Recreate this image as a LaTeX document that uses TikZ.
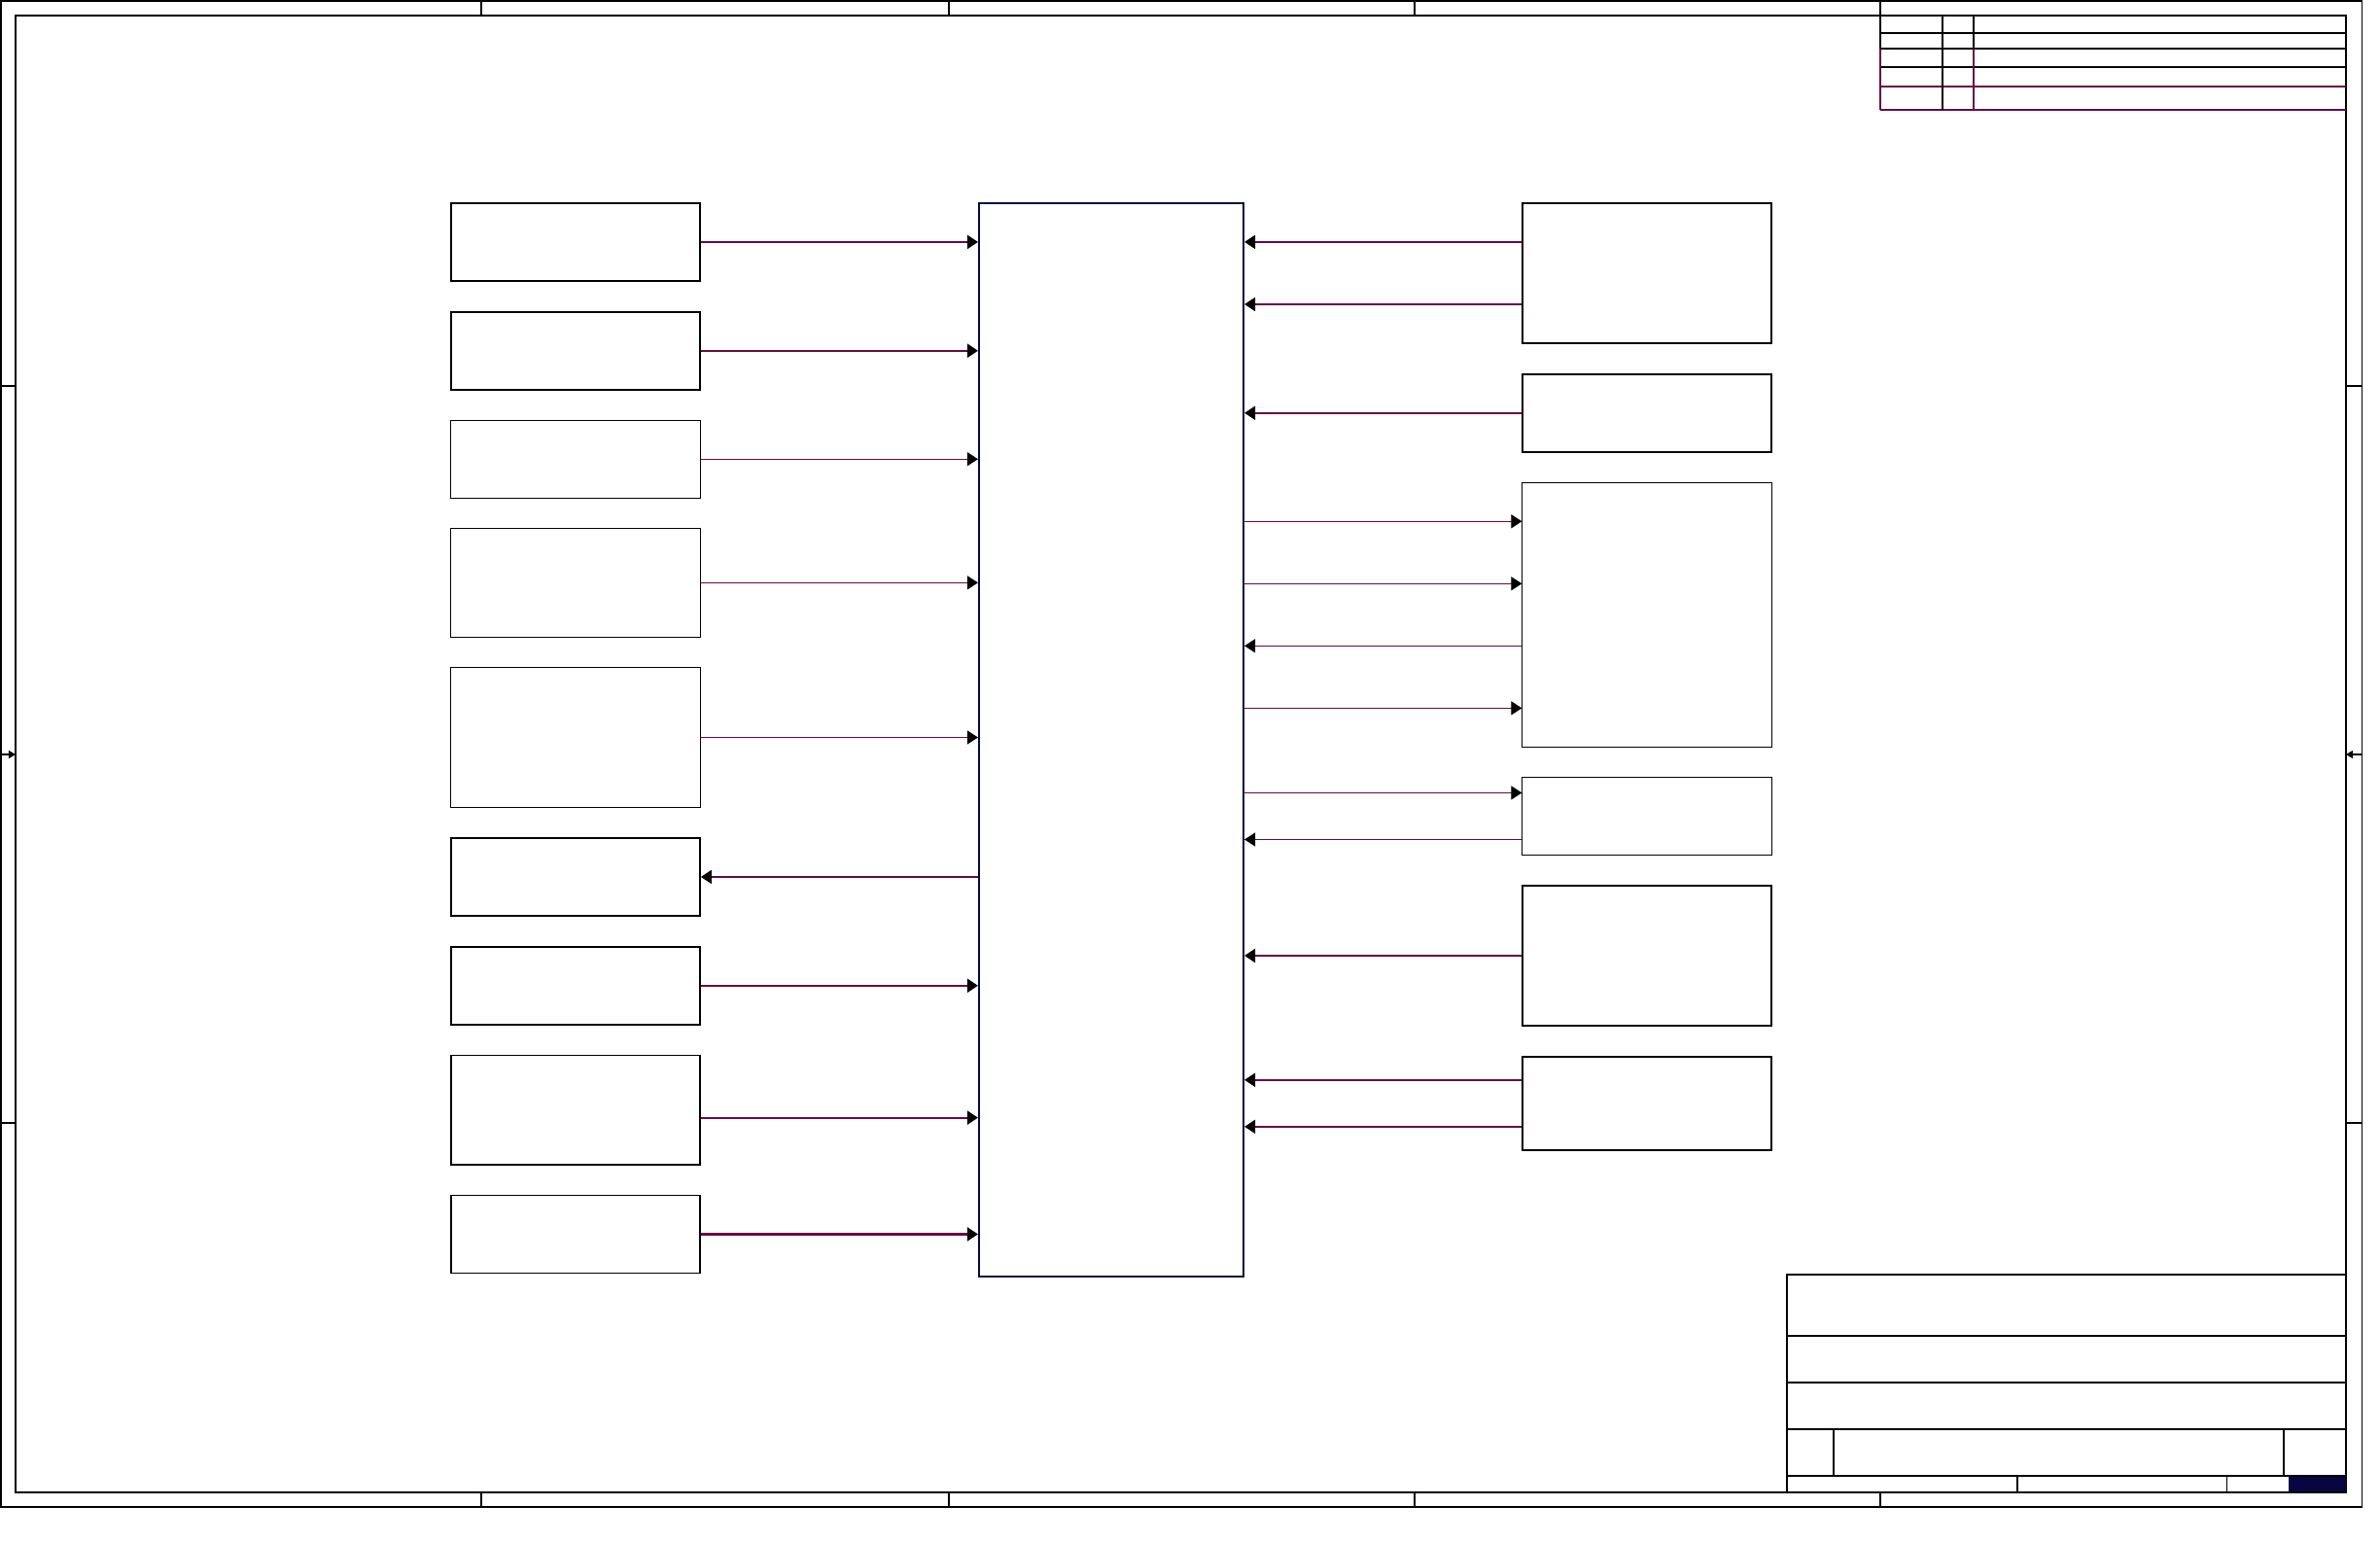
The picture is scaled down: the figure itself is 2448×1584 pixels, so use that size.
\documentclass[tikz,border=0pt]{standalone}
\usepackage{xcolor}
\usepackage{tikz}
\usetikzlibrary{arrows.meta, positioning}

\definecolor{buspurple}{RGB}{104,10,66}
\definecolor{corenavy}{RGB}{8,6,64}

\begin{document}
\begin{tikzpicture}[
    x=0.01cm, y=-0.01cm,
    node distance=0.3cm,
    block/.style={rectangle, minimum width=2.56cm, minimum height=0.8cm, inner sep=0pt, draw=black, line width=0.3pt},
    blockbold/.style={block, line width=0.5pt},
    core/.style={rectangle, minimum width=2.72cm, minimum height=11.03cm, inner sep=0pt, draw=corenavy, line width=0.55pt},
    bus/.style={draw=buspurple, line width=0.6pt, -{Triangle[length=0.11cm, width=0.14cm, color=black]}},
    wire/.style={bus, line width=0.3pt},
    frameline/.style={draw=black, line width=0.3pt},
    framebold/.style={draw=black, line width=0.5pt},
    revline/.style={draw=buspurple, line width=0.5pt}
]

    \useasboundingbox (0,0) rectangle (2448,1584);

    \draw [frameline] (1,1) rectangle (2429,1550);
    \draw [framebold] (16,16) rectangle (2413,1535);
    \draw [frameline] (495,1) -- (495,16);
    \draw [frameline] (976,1) -- (976,16);
    \draw [frameline] (1455,1) -- (1455,16);
    \draw [frameline] (1934,1) -- (1934,16);
    \draw [frameline] (495,1535) -- (495,1550);
    \draw [frameline] (976,1535) -- (976,1550);
    \draw [frameline] (1455,1535) -- (1455,1550);
    \draw [frameline] (1934,1535) -- (1934,1550);
    \draw [frameline] (1,397) -- (16,397);
    \draw [frameline] (1,1155) -- (16,1155);
    \draw [frameline] (2413,397) -- (2429,397);
    \draw [frameline] (2413,1155) -- (2429,1155);
    \draw [frameline, -{Triangle[length=0.07cm, width=0.08cm]}] (1,776) -- (16,776);
    \draw [frameline, -{Triangle[length=0.07cm, width=0.08cm]}] (2429,776) -- (2413,776);

    \draw [framebold] (1934,34) -- (2413,34);
    \draw [frameline] (1934,50) -- (2413,50);
    \draw [framebold] (1934,69) -- (2413,69);
    \draw [revline] (1934,89) -- (2413,89);
    \draw [revline] (1934,113) -- (2413,113);
    \draw [framebold] (1934,16) -- (1934,50);
    \draw [revline] (1934,50) -- (1934,113);
    \draw [framebold] (1998,16) -- (1998,113);
    \draw [framebold] (2030,16) -- (2030,50);
    \draw [revline] (2030,50) -- (2030,113);

    \draw [framebold] (1838,1470) -- (1838,1311) -- (2413,1311);
    \draw [frameline] (1838,1374) -- (2413,1374);
    \draw [frameline] (1838,1422) -- (2413,1422);
    \draw [framebold] (1838,1470) -- (2413,1470);
    \draw [frameline] (1838,1518) -- (2413,1518);
    \draw [frameline] (1838,1470) -- (1838,1534);
    \draw [framebold] (1886,1470) -- (1886,1518);
    \draw [framebold] (2349,1470) -- (2349,1518);
    \draw [framebold] (2075,1518) -- (2075,1534);
    \draw [frameline] (2290,1518) -- (2290,1534);
    \fill [corenavy] (2354,1519) rectangle (2413,1534);

    \node (soc) [core, anchor=north] at (1143,208) {};

    \node (lft1) [blockbold, anchor=north] at (592,208) {};
    \node (lft2) [blockbold, below=of lft1] {};
    \node (lft3) [block, below=of lft2] {};
    \node (lft4) [block, below=of lft3, minimum height=1.12cm] {};
    \node (lft5) [block, below=of lft4, minimum height=1.44cm] {};
    \node (lft6) [blockbold, below=of lft5] {};
    \node (lft7) [blockbold, below=of lft6] {};
    \node (lft8) [blockbold, below=of lft7, minimum height=1.12cm] {};
    \node (lft9) [blockbold, below=of lft8] {};

    \node (rgt1) [blockbold, anchor=north, minimum height=1.44cm] at (1694,208) {};
    \node (rgt2) [blockbold, below=of rgt1] {};
    \node (rgt3) [block, below=of rgt2, minimum height=2.72cm] {};
    \node (rgt4) [block, below=of rgt3] {};
    \node (rgt5) [blockbold, below=of rgt4, minimum height=1.44cm] {};
    \node (rgt6) [blockbold, below=of rgt5, minimum height=0.96cm] {};

    \draw [bus] (lft1) -- (lft1 -| soc.west);
    \draw [bus] (lft2) -- (lft2 -| soc.west);
    \draw [wire] (lft3) -- (lft3 -| soc.west);
    \draw [wire] (lft4) -- (lft4 -| soc.west);
    \draw [wire] (lft5) -- (lft5 -| soc.west);
    \draw [bus] (lft6 -| soc.west) -- (lft6);
    \draw [bus] (lft7) -- (lft7 -| soc.west);
    \coordinate (l8a) at ([yshift=-0.08cm]lft8.east);
    \draw [bus] (l8a) -- (l8a -| soc.west);
    \draw [bus] (lft9) -- (lft9 -| soc.west);

    \coordinate (r1a) at ([yshift=0.32cm]rgt1.west);
    \coordinate (r1b) at ([yshift=-0.32cm]rgt1.west);
    \coordinate (r3a) at ([yshift=0.96cm]rgt3.west);
    \coordinate (r3b) at ([yshift=0.32cm]rgt3.west);
    \coordinate (r3c) at ([yshift=-0.32cm]rgt3.west);
    \coordinate (r3d) at ([yshift=-0.96cm]rgt3.west);
    \coordinate (r4a) at ([yshift=0.24cm]rgt4.west);
    \coordinate (r4b) at ([yshift=-0.24cm]rgt4.west);
    \coordinate (r6a) at ([yshift=0.24cm]rgt6.west);
    \coordinate (r6b) at ([yshift=-0.24cm]rgt6.west);

    \draw [bus] (r1a) -- (r1a -| soc.east);
    \draw [bus] (r1b) -- (r1b -| soc.east);
    \draw [bus] (rgt2) -- (rgt2 -| soc.east);
    \draw [wire] (r3a -| soc.east) -- (r3a);
    \draw [wire] (r3b -| soc.east) -- (r3b);
    \draw [wire] (r3c) -- (r3c -| soc.east);
    \draw [wire] (r3d -| soc.east) -- (r3d);
    \draw [wire] (r4a -| soc.east) -- (r4a);
    \draw [wire] (r4b) -- (r4b -| soc.east);
    \draw [bus] (rgt5) -- (rgt5 -| soc.east);
    \draw [bus] (r6a) -- (r6a -| soc.east);
    \draw [bus] (r6b) -- (r6b -| soc.east);

\end{tikzpicture}
\end{document}
